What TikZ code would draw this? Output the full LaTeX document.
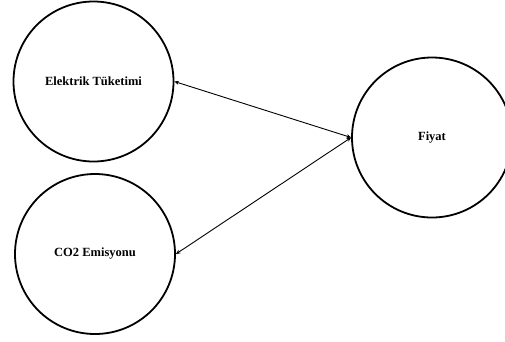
\documentclass[tikz,border=0pt]{standalone}
\usepackage{fontspec}
\setmainfont{Liberation Serif}
\usetikzlibrary{arrows.meta}
\begin{document}
\begin{tikzpicture}[x=1pt,y=-1pt,
  var/.style={circle,draw=black,line width=1.8pt,minimum size=160pt,inner sep=0pt,font=\bfseries\fontsize{12.5}{14}\selectfont},
  link/.style={line width=0.9pt,{Stealth[length=4.5pt,width=4pt]}-{Stealth[length=4.5pt,width=4pt]}}]
\useasboundingbox (0,0) rectangle (505,341);
\node[var] (e) at (93.5,81.5) {Elektrik Tüketimi};
\node[var] (c) at (95,254) {CO2 Emisyonu};
\node[var] (f) at (432,137.5) {Fiyat};
\draw[link] (e.east) -- (f.west);
\draw[link] (c.east) -- (f.west);
\end{tikzpicture}
\end{document}
